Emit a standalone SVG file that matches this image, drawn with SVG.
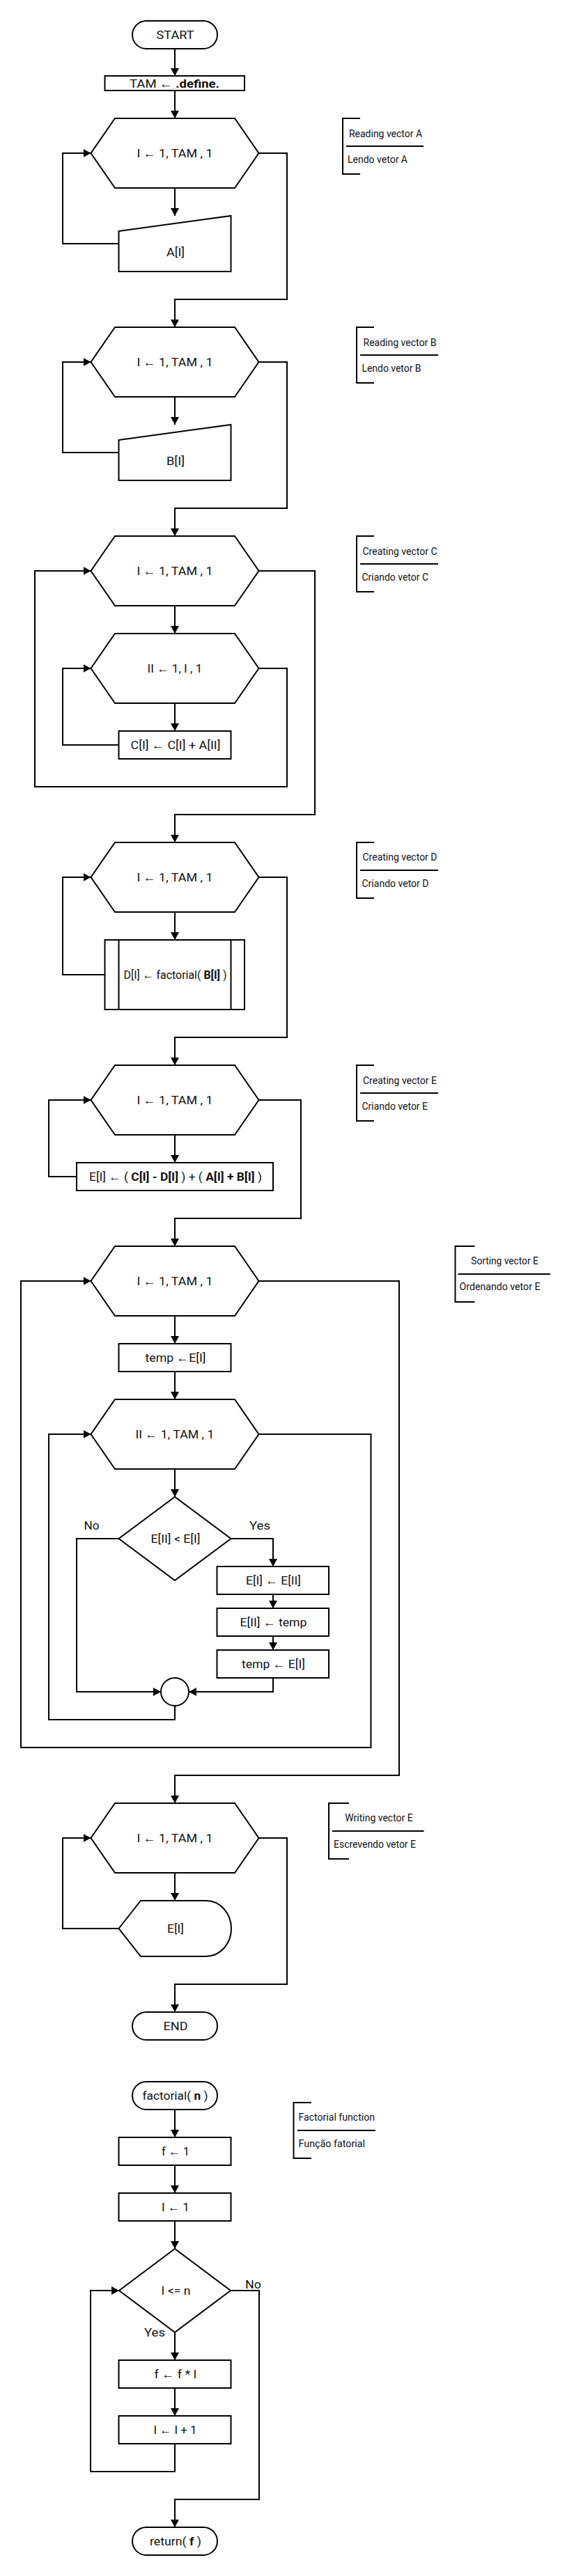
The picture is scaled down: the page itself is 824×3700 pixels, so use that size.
<svg xmlns="http://www.w3.org/2000/svg" width="824" height="3700" viewBox="0 0 824 3700">
<defs>
<marker id="ah" markerUnits="userSpaceOnUse" markerWidth="12" markerHeight="12" viewBox="0 0 12 12" refX="11" refY="6" orient="auto">
<path d="M0,0 L11,6 L0,12 Z" fill="#000"/>
</marker>
</defs>
<style>
.s{fill:#fff;stroke:#000;stroke-width:2}
.c{fill:none;stroke:#000;stroke-width:2;marker-end:url(#ah)}
.l{fill:none;stroke:#000;stroke-width:2}
.t{font-family:Roboto,"Liberation Sans",sans-serif;font-size:17px;fill:#111;text-anchor:middle;dominant-baseline:central}
.a{font-family:Roboto,"Liberation Sans",sans-serif;font-size:14px;fill:#111;dominant-baseline:central}
.m{text-anchor:middle}
.b{font-weight:bold}
.ar{font-family:"Liberation Sans",sans-serif}
</style>
<rect width="824" height="3700" fill="#fff"/>

<g id="connectors">
<path class="c" d="M251,70 V109"/>
<path class="c" d="M251,130 V170"/>
<path class="c" d="M251,270 V310"/>
<path class="c" d="M170.5,350 H90 V220 H130.5"/>
<path class="c" d="M371.5,220 H412 V430 H251 V470"/>
<path class="c" d="M251,570 V610"/>
<path class="c" d="M170.5,650 H90 V520 H130.5"/>
<path class="c" d="M371.5,520 H412 V730 H251 V770"/>
<path class="c" d="M251,870 V910"/>
<path class="c" d="M251,1010 V1050"/>
<path class="c" d="M170.5,1070 H90 V960 H130.5"/>
<path class="c" d="M371.5,960 H412 V1130 H50 V820 H130.5"/>
<path class="c" d="M371.5,820 H452 V1170 H251 V1210"/>
<path class="c" d="M251,1310 V1350"/>
<path class="c" d="M150.5,1400 H90 V1260 H130.5"/>
<path class="c" d="M371.5,1260 H412 V1490 H251 V1530"/>
<path class="c" d="M251,1630 V1670"/>
<path class="c" d="M110,1690 H70 V1580 H130.5"/>
<path class="c" d="M371.5,1580 H432 V1750 H251 V1790"/>
<path class="c" d="M251,1890 V1930"/>
<path class="c" d="M251,1970 V2010"/>
<path class="c" d="M251,2110 V2150"/>
<path class="c" d="M331.5,2210 H392 V2250"/>
<path class="c" d="M392,2290 V2310"/>
<path class="c" d="M392,2350 V2370"/>
<path class="c" d="M392,2410 V2430 H271"/>
<path class="c" d="M170.5,2210 H110 V2430 H231"/>
<path class="c" d="M251,2450 V2470 H70 V2060 H130.5"/>
<path class="c" d="M371.5,2060 H532.5 V2510 H30 V1840 H130.5"/>
<path class="c" d="M371.5,1840 H573 V2550 H251 V2590"/>
<path class="c" d="M251,2690 V2730"/>
<path class="c" d="M170.5,2770 H90 V2640 H130.5"/>
<path class="c" d="M371.5,2640 H412 V2850 H251 V2890"/>
<path class="c" d="M251,3030 V3070"/>
<path class="c" d="M251,3110 V3150"/>
<path class="c" d="M251,3190 V3230"/>
<path class="c" d="M251,3350 V3390"/>
<path class="c" d="M251,3430 V3470"/>
<path class="c" d="M251,3510 V3550 H130 V3290 H171"/>
<path class="c" d="M331,3290 H372 V3590 H251 V3630"/>
</g>

<g id="start"><rect class="s" x="190" y="30" width="122" height="40" rx="20"/><text class="t" x="251.5" y="50" textLength="54" lengthAdjust="spacingAndGlyphs">START</text></g>
<g id="tam"><rect class="s" x="150.5" y="109" width="200.5" height="21"/><text class="t" x="250.5" y="119.5" textLength="129" lengthAdjust="spacingAndGlyphs">TAM <tspan class="ar">←</tspan> <tspan class="b">.define.</tspan></text></g>

<g id="loopA"><polygon class="s" points="165,170 337,170 371.5,220 337,270 165,270 130.5,220"/><text class="t" x="251" y="220" textLength="109" lengthAdjust="spacingAndGlyphs">I <tspan class="ar">←</tspan> 1, TAM , 1</text></g>
<g id="readA"><polygon class="s" points="170.5,332 331.5,310 331.5,390 170.5,390"/><text class="t" x="252" y="362" textLength="26" lengthAdjust="spacingAndGlyphs">A[I]</text></g>

<g id="loopB"><polygon class="s" points="165,470 337,470 371.5,520 337,570 165,570 130.5,520"/><text class="t" x="251" y="520" textLength="109" lengthAdjust="spacingAndGlyphs">I <tspan class="ar">←</tspan> 1, TAM , 1</text></g>
<g id="readB"><polygon class="s" points="170.5,632 331.5,610 331.5,690 170.5,690"/><text class="t" x="252" y="662" textLength="26" lengthAdjust="spacingAndGlyphs">B[I]</text></g>

<g id="loopC1"><polygon class="s" points="165,770 337,770 371.5,820 337,870 165,870 130.5,820"/><text class="t" x="251" y="820" textLength="109" lengthAdjust="spacingAndGlyphs">I <tspan class="ar">←</tspan> 1, TAM , 1</text></g>
<g id="loopC2"><polygon class="s" points="165,910 337,910 371.5,960 337,1010 165,1010 130.5,960"/><text class="t" x="251" y="960" textLength="79" lengthAdjust="spacingAndGlyphs">II <tspan class="ar">←</tspan> 1, I , 1</text></g>
<g id="calcC"><rect class="s" x="170.5" y="1050" width="161" height="40"/><text class="t" x="252" y="1070" textLength="129" lengthAdjust="spacingAndGlyphs">C[I] <tspan class="ar">←</tspan> C[I] + A[II]</text></g>

<g id="loopD"><polygon class="s" points="165,1210 337,1210 371.5,1260 337,1310 165,1310 130.5,1260"/><text class="t" x="251" y="1260" textLength="109" lengthAdjust="spacingAndGlyphs">I <tspan class="ar">←</tspan> 1, TAM , 1</text></g>
<g id="calcD"><rect class="s" x="150.5" y="1350" width="200.5" height="100"/><path class="l" d="M170.5,1350 V1450 M331.5,1350 V1450"/><text class="t" x="251.5" y="1400" textLength="148" lengthAdjust="spacingAndGlyphs">D[I] <tspan class="ar">←</tspan> factorial( <tspan class="b">B[I]</tspan> )</text></g>

<g id="loopE"><polygon class="s" points="165,1530 337,1530 371.5,1580 337,1630 165,1630 130.5,1580"/><text class="t" x="251" y="1580" textLength="109" lengthAdjust="spacingAndGlyphs">I <tspan class="ar">←</tspan> 1, TAM , 1</text></g>
<g id="calcE"><rect class="s" x="110" y="1670" width="282" height="40"/><text class="t" x="252" y="1690" textLength="248" lengthAdjust="spacingAndGlyphs">E[I] <tspan class="ar">←</tspan> ( <tspan class="b">C[I] - D[I]</tspan> ) + ( <tspan class="b">A[I] + B[I]</tspan> )</text></g>

<g id="sortI"><polygon class="s" points="165,1790 337,1790 371.5,1840 337,1890 165,1890 130.5,1840"/><text class="t" x="251" y="1840" textLength="109" lengthAdjust="spacingAndGlyphs">I <tspan class="ar">←</tspan> 1, TAM , 1</text></g>
<g id="temp1"><rect class="s" x="170.5" y="1930" width="161" height="40"/><text class="t" x="252" y="1950" textLength="87" lengthAdjust="spacingAndGlyphs">temp <tspan class="ar">←</tspan>E[I]</text></g>
<g id="sortII"><polygon class="s" points="165,2010 337,2010 371.5,2060 337,2110 165,2110 130.5,2060"/><text class="t" x="251" y="2060" textLength="113" lengthAdjust="spacingAndGlyphs">II <tspan class="ar">←</tspan> 1, TAM , 1</text></g>
<g id="cmp"><polygon class="s" points="251,2150 331.5,2210 251,2270 170.5,2210"/><text class="t" x="252" y="2210" textLength="71" lengthAdjust="spacingAndGlyphs">E[II] &lt; E[I]</text></g>
<g id="lblNo1"><text class="t" x="131.5" y="2191" textLength="22" lengthAdjust="spacingAndGlyphs">No</text></g>
<g id="lblYes1"><text class="t" x="373" y="2191" textLength="30" lengthAdjust="spacingAndGlyphs">Yes</text></g>
<g id="swap1"><rect class="s" x="311.5" y="2250" width="160.5" height="40"/><text class="t" x="392.5" y="2270" textLength="79" lengthAdjust="spacingAndGlyphs">E[I] <tspan class="ar">←</tspan> E[II]</text></g>
<g id="swap2"><rect class="s" x="311.5" y="2310" width="160.5" height="40"/><text class="t" x="392.5" y="2330" textLength="96" lengthAdjust="spacingAndGlyphs">E[II] <tspan class="ar">←</tspan> temp</text></g>
<g id="swap3"><rect class="s" x="311.5" y="2370" width="160.5" height="40"/><text class="t" x="392.5" y="2390" textLength="91" lengthAdjust="spacingAndGlyphs">temp <tspan class="ar">←</tspan> E[I]</text></g>
<g id="join"><circle class="s" cx="251" cy="2430" r="20"/></g>

<g id="loopW"><polygon class="s" points="165,2590 337,2590 371.5,2640 337,2690 165,2690 130.5,2640"/><text class="t" x="251" y="2640" textLength="109" lengthAdjust="spacingAndGlyphs">I <tspan class="ar">←</tspan> 1, TAM , 1</text></g>
<g id="writeE"><path class="s" d="M170.5,2770 L202,2730 H296 A36,40 0 0 1 296,2810 H202 Z"/><text class="t" x="252" y="2770" textLength="24" lengthAdjust="spacingAndGlyphs">E[I]</text></g>

<g id="end"><rect class="s" x="190" y="2890" width="122" height="40" rx="20"/><text class="t" x="252" y="2910" textLength="35" lengthAdjust="spacingAndGlyphs">END</text></g>

<g id="fact"><rect class="s" x="190" y="2990" width="122" height="40" rx="20"/><text class="t" x="251.5" y="3010" textLength="94" lengthAdjust="spacingAndGlyphs">factorial( <tspan class="b">n</tspan> )</text></g>
<g id="f1"><rect class="s" x="170.5" y="3070" width="161" height="40"/><text class="t" x="252" y="3090" textLength="40" lengthAdjust="spacingAndGlyphs">f <tspan class="ar">←</tspan> 1</text></g>
<g id="i1"><rect class="s" x="170.5" y="3150" width="161" height="40"/><text class="t" x="252" y="3170" textLength="40" lengthAdjust="spacingAndGlyphs">I <tspan class="ar">←</tspan> 1</text></g>
<g id="cond"><polygon class="s" points="251,3230 331,3290 251,3350 171,3290"/><text class="t" x="252.5" y="3290" textLength="42" lengthAdjust="spacingAndGlyphs">I &lt;= n</text></g>
<g id="lblNo2"><text class="t" x="363.5" y="3281" textLength="23" lengthAdjust="spacingAndGlyphs">No</text></g>
<g id="lblYes2"><text class="t" x="222" y="3350" textLength="30" lengthAdjust="spacingAndGlyphs">Yes</text></g>
<g id="fmul"><rect class="s" x="170.5" y="3390" width="161" height="40"/><text class="t" x="252" y="3410" textLength="61" lengthAdjust="spacingAndGlyphs">f <tspan class="ar">←</tspan> f * I</text></g>
<g id="inc"><rect class="s" x="170.5" y="3470" width="161" height="40"/><text class="t" x="251.5" y="3490" textLength="62" lengthAdjust="spacingAndGlyphs">I <tspan class="ar">←</tspan> I + 1</text></g>
<g id="ret"><rect class="s" x="190" y="3630" width="122" height="40" rx="20"/><text class="t" x="252" y="3650" textLength="74" lengthAdjust="spacingAndGlyphs">return( <tspan class="b">f</tspan> )</text></g>

<g id="noteA"><path class="l" d="M517,170 H492 V250 H517 M497,210 H608"/><text class="a m" x="553.5" y="192" textLength="105" lengthAdjust="spacingAndGlyphs">Reading vector A</text><text class="a" x="499" y="229" textLength="86" lengthAdjust="spacingAndGlyphs">Lendo vetor A</text></g>
<g id="noteB"><path class="l" d="M537,470 H512 V550 H537 M517,510 H629"/><text class="a m" x="574" y="492" textLength="105" lengthAdjust="spacingAndGlyphs">Reading vector B</text><text class="a" x="519.5" y="529" textLength="85" lengthAdjust="spacingAndGlyphs">Lendo vetor B</text></g>
<g id="noteC"><path class="l" d="M537,770 H512 V850 H537 M517,810 H629"/><text class="a m" x="574" y="792" textLength="107" lengthAdjust="spacingAndGlyphs">Creating vector C</text><text class="a" x="519.5" y="829" textLength="95.5" lengthAdjust="spacingAndGlyphs">Criando vetor C</text></g>
<g id="noteD"><path class="l" d="M537,1210 H512 V1290 H537 M517,1250 H629"/><text class="a m" x="574" y="1231" textLength="107" lengthAdjust="spacingAndGlyphs">Creating vector D</text><text class="a" x="519.5" y="1269" textLength="96" lengthAdjust="spacingAndGlyphs">Criando vetor D</text></g>
<g id="noteE"><path class="l" d="M537,1530 H512 V1610 H537 M517,1570 H629"/><text class="a m" x="574" y="1552" textLength="106" lengthAdjust="spacingAndGlyphs">Creating vector E</text><text class="a" x="519.5" y="1589" textLength="94.5" lengthAdjust="spacingAndGlyphs">Criando vetor E</text></g>
<g id="noteSort"><path class="l" d="M681.5,1790 H653.5 V1870 H681.5 M657.5,1830 H790"/><text class="a m" x="724.5" y="1811" textLength="96.5" lengthAdjust="spacingAndGlyphs">Sorting vector E</text><text class="a" x="659.5" y="1848" textLength="116" lengthAdjust="spacingAndGlyphs">Ordenando vetor E</text></g>
<g id="noteWrite"><path class="l" d="M501,2590 H472 V2670 H501 M477,2630 H608.5"/><text class="a m" x="544" y="2611" textLength="97.5" lengthAdjust="spacingAndGlyphs">Writing vector E</text><text class="a" x="479" y="2649" textLength="118" lengthAdjust="spacingAndGlyphs">Escrevendo vetor E</text></g>
<g id="noteFact"><path class="l" d="M447,3020 H421.5 V3100 H447 M427,3060 H539"/><text class="a" x="428.5" y="3041" textLength="109.5" lengthAdjust="spacingAndGlyphs">Factorial function</text><text class="a" x="428.5" y="3079" textLength="95.5" lengthAdjust="spacingAndGlyphs">Função fatorial</text></g>
</svg>
